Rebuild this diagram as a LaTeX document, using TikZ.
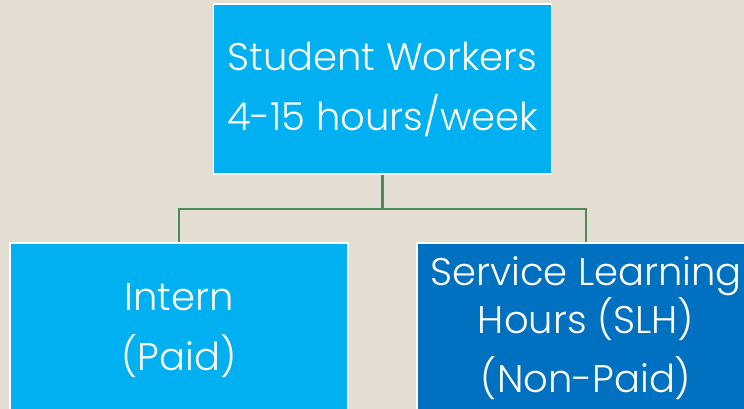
\documentclass[tikz,border=0pt]{standalone}
\usepackage{fontspec}
\setmainfont{Poppins}[UprightFont=* Light]
\usetikzlibrary{positioning}
\definecolor{Sand}{HTML}{E3DDD2}
\definecolor{Sky}{HTML}{00B0F0}
\definecolor{Ocean}{HTML}{0070C0}
\definecolor{Leaf}{HTML}{4E8A57}

\begin{document}
\begin{tikzpicture}[x=1pt,y=1pt,
 box/.style={draw=white,line width=1.5pt,fill=Sky,text=white,align=center,
   minimum width=338pt,minimum height=176pt,inner sep=0pt,
   font=\fontsize{38.5}{44}\selectfont},
 dark/.style={box,fill=Ocean},
 link/.style={draw=Leaf,line width=2.2pt}]
\clip (0,0) rectangle (744,-409);
\fill[Sand] (0,0) rectangle (744,-409);
\node[box,minimum height=170pt] (workers) at (382.5,-89) {Student Workers\\[16pt]4-15 hours/week};
\node[box] (intern) at (179,-331) {Intern\\[16pt](Paid)};
\node[dark,minimum height=170pt] (slh) at (586,-328) {Service Learning\\Hours (SLH)\\[15pt](Non-Paid)};
\coordinate (fork) at ([yshift=-34pt]workers.south);
\draw[link] (workers.south)--(fork);
\draw[link] (fork) -| (intern.north);
\draw[link] (fork) -| (slh.north);
\end{tikzpicture}
\end{document}
